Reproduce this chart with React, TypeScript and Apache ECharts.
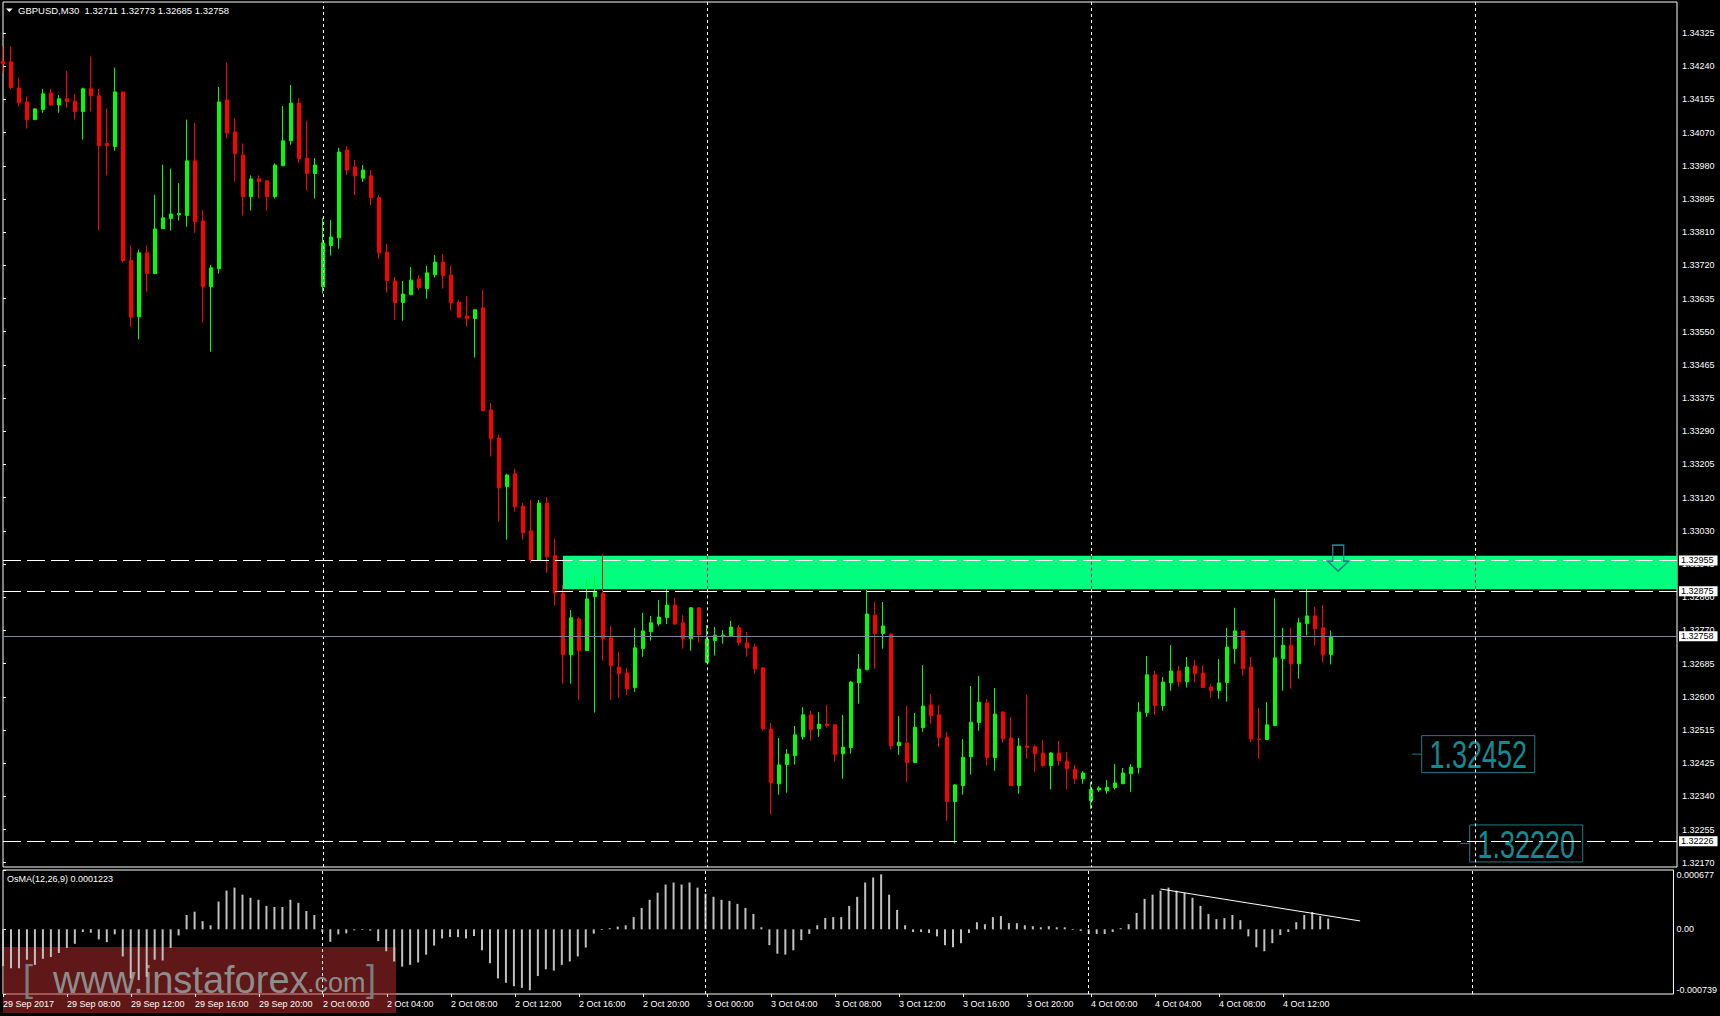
import React, { useEffect, useRef } from "react";
import * as echarts from "echarts";

const symbolTitle = "GBPUSD,M30";
const lastOHLC = ["1.32711", "1.32773", "1.32685", "1.32758"];
const indicatorTitle = "OsMA(12,26,9) 0.0001223";

const timeLabels = [
  "29 Sep 2017", "29 Sep 08:00", "29 Sep 12:00", "29 Sep 16:00", "29 Sep 20:00",
  "2 Oct 00:00", "2 Oct 04:00", "2 Oct 08:00", "2 Oct 12:00", "2 Oct 16:00", "2 Oct 20:00",
  "3 Oct 00:00", "3 Oct 04:00", "3 Oct 08:00", "3 Oct 12:00", "3 Oct 16:00", "3 Oct 20:00",
  "4 Oct 00:00", "4 Oct 04:00", "4 Oct 08:00", "4 Oct 12:00",
];

const priceTicks = [
  "1.32170", "1.32255", "1.32340", "1.32425", "1.32515", "1.32600", "1.32685", "1.32770",
  "1.32860", "1.32945", "1.33030", "1.33120", "1.33205", "1.33290", "1.33375", "1.33465",
  "1.33550", "1.33635", "1.33720", "1.33810", "1.33895", "1.33980", "1.34070", "1.34155",
  "1.34240", "1.34325",
];

const opens = [
  1.34251, 1.34250, 1.34182, 1.34146, 1.34100, 1.34126, 1.34169, 1.34138, 1.34154, 1.34148,
  1.34121, 1.34180, 1.34162, 1.34038, 1.34030, 1.34172, 1.33734, 1.33588, 1.33754, 1.33700,
  1.33817, 1.33843, 1.33853, 1.33851, 1.33993, 1.33837, 1.33666, 1.33713, 1.34151, 1.34068,
  1.34008, 1.33900, 1.33946, 1.33941, 1.33900, 1.33980, 1.34045, 1.34143, 1.34000, 1.33960,
  1.33666, 1.33773, 1.33793, 1.34021, 1.33977, 1.33948, 1.33954, 1.33897, 1.33756, 1.33681,
  1.33625, 1.33645, 1.33686, 1.33661, 1.33697, 1.33730, 1.33696, 1.33626, 1.33590, 1.33583,
  1.33611, 1.33346, 1.33273, 1.33147, 1.33180, 1.33096, 1.33032, 1.32956, 1.33104, 1.32967,
  1.32870, 1.32710, 1.32803, 1.32721, 1.32861, 1.32870, 1.32754, 1.32678, 1.32663, 1.32625,
  1.32726, 1.32770, 1.32790, 1.32807, 1.32839, 1.32793, 1.32752, 1.32832, 1.32690, 1.32747,
  1.32757, 1.32760, 1.32780, 1.32741, 1.32730, 1.32676, 1.32517, 1.32375, 1.32425, 1.32448,
  1.32497, 1.32554, 1.32518, 1.32530, 1.32528, 1.32453, 1.32469, 1.32637, 1.32671, 1.32813,
  1.32765, 1.32764, 1.32474, 1.32481, 1.32430, 1.32521, 1.32580, 1.32554, 1.32496, 1.32329,
  1.32370, 1.32445, 1.32534, 1.32585, 1.32443, 1.32561, 1.32494, 1.32370, 1.32473, 1.32471,
  1.32455, 1.32422, 1.32455, 1.32434, 1.32413, 1.32388, 1.32331, 1.32359, 1.32357, 1.32365,
  1.32375, 1.32401, 1.32417, 1.32560, 1.32658, 1.32578, 1.32637, 1.32668, 1.32640, 1.32681,
  1.32663, 1.32626, 1.32617, 1.32638, 1.32726, 1.32772, 1.32678, 1.32491, 1.32490, 1.32526,
  1.32700, 1.32735, 1.32687, 1.32791, 1.32811, 1.32780, 1.32711,
];

const closes = [
  1.34246, 1.34183, 1.34144, 1.34100, 1.34128, 1.34167, 1.34138, 1.34154, 1.34147, 1.34121,
  1.34180, 1.34162, 1.34032, 1.34032, 1.34172, 1.33734, 1.33587, 1.33754, 1.33700, 1.33816,
  1.33845, 1.33855, 1.33856, 1.33993, 1.33835, 1.33666, 1.33715, 1.34146, 1.34066, 1.34012,
  1.33900, 1.33946, 1.33939, 1.33900, 1.33982, 1.34045, 1.34143, 1.33999, 1.33960, 1.33982,
  1.33780, 1.33795, 1.34016, 1.33969, 1.33954, 1.33969, 1.33897, 1.33754, 1.33682, 1.33625,
  1.33647, 1.33683, 1.33664, 1.33702, 1.33730, 1.33695, 1.33625, 1.33587, 1.33583, 1.33606,
  1.33344, 1.33271, 1.33144, 1.33177, 1.33095, 1.33027, 1.32956, 1.33104, 1.32965, 1.32871,
  1.32710, 1.32806, 1.32721, 1.32855, 1.32873, 1.32752, 1.32682, 1.32661, 1.32622, 1.32728,
  1.32772, 1.32793, 1.32808, 1.32839, 1.32790, 1.32752, 1.32832, 1.32762, 1.32751, 1.32761,
  1.32761, 1.32782, 1.32742, 1.32728, 1.32674, 1.32518, 1.32378, 1.32424, 1.32452, 1.32502,
  1.32554, 1.32516, 1.32530, 1.32526, 1.32451, 1.32470, 1.32639, 1.32673, 1.32816, 1.32765,
  1.32785, 1.32474, 1.32483, 1.32430, 1.32522, 1.32577, 1.32552, 1.32495, 1.32329, 1.32372,
  1.32444, 1.32535, 1.32587, 1.32443, 1.32556, 1.32492, 1.32370, 1.32473, 1.32469, 1.32453,
  1.32422, 1.32455, 1.32435, 1.32414, 1.32388, 1.32403, 1.32361, 1.32364, 1.32366, 1.32377,
  1.32403, 1.32418, 1.32561, 1.32658, 1.32578, 1.32639, 1.32668, 1.32640, 1.32678, 1.32661,
  1.32625, 1.32617, 1.32637, 1.32730, 1.32772, 1.32674, 1.32492, 1.32490, 1.32528, 1.32702,
  1.32735, 1.32687, 1.32793, 1.32811, 1.32778, 1.32710, 1.32758,
];

const lows = [
  1.34222, 1.34179, 1.34134, 1.34077, 1.34100, 1.34118, 1.34135, 1.34118, 1.34131, 1.34100,
  1.34048, 1.34121, 1.33812, 1.33955, 1.34019, 1.33729, 1.33561, 1.33529, 1.33653, 1.33700,
  1.33817, 1.33812, 1.33838, 1.33822, 1.33806, 1.33573, 1.33497, 1.33700, 1.34051, 1.33939,
  1.33851, 1.33864, 1.33895, 1.33864, 1.33895, 1.33980, 1.34035, 1.33988, 1.33916, 1.33895,
  1.33648, 1.33747, 1.33765, 1.33956, 1.33904, 1.33938, 1.33878, 1.33739, 1.33651, 1.33580,
  1.33578, 1.33645, 1.33658, 1.33635, 1.33690, 1.33661, 1.33604, 1.33586, 1.33562, 1.33482,
  1.33344, 1.33225, 1.33056, 1.33009, 1.33082, 1.33009, 1.32949, 1.32956, 1.32923, 1.32838,
  1.32635, 1.32635, 1.32593, 1.32721, 1.32560, 1.32695, 1.32593, 1.32599, 1.32606, 1.32614,
  1.32705, 1.32747, 1.32785, 1.32790, 1.32787, 1.32726, 1.32721, 1.32742, 1.32690, 1.32708,
  1.32739, 1.32760, 1.32734, 1.32705, 1.32661, 1.32513, 1.32295, 1.32347, 1.32352, 1.32425,
  1.32490, 1.32487, 1.32497, 1.32521, 1.32432, 1.32388, 1.32453, 1.32583, 1.32671, 1.32674,
  1.32726, 1.32464, 1.32450, 1.32380, 1.32430, 1.32510, 1.32531, 1.32471, 1.32279, 1.32220,
  1.32347, 1.32399, 1.32513, 1.32422, 1.32409, 1.32482, 1.32370, 1.32349, 1.32440, 1.32406,
  1.32419, 1.32360, 1.32422, 1.32360, 1.32375, 1.32375, 1.32310, 1.32354, 1.32349, 1.32360,
  1.32375, 1.32354, 1.32401, 1.32549, 1.32554, 1.32565, 1.32617, 1.32627, 1.32625, 1.32638,
  1.32625, 1.32599, 1.32596, 1.32588, 1.32687, 1.32656, 1.32484, 1.32440, 1.32490, 1.32526,
  1.32617, 1.32622, 1.32648, 1.32760, 1.32734, 1.32690, 1.32685,
];

const highs = [
  1.34290, 1.34290, 1.34209, 1.34160, 1.34128, 1.34180, 1.34180, 1.34164, 1.34226, 1.34167,
  1.34183, 1.34264, 1.34180, 1.34128, 1.34235, 1.34172, 1.33773, 1.33762, 1.33773, 1.33905,
  1.33983, 1.33973, 1.33935, 1.34100, 1.34092, 1.33865, 1.33723, 1.34185, 1.34248, 1.34104,
  1.34038, 1.33955, 1.33955, 1.33941, 1.33986, 1.34135, 1.34190, 1.34156, 1.34097, 1.34000,
  1.33845, 1.33839, 1.34027, 1.34031, 1.33995, 1.33982, 1.33969, 1.33904, 1.33777, 1.33691,
  1.33681, 1.33717, 1.33696, 1.33720, 1.33748, 1.33751, 1.33720, 1.33632, 1.33642, 1.33608,
  1.33658, 1.33364, 1.33281, 1.33180, 1.33193, 1.33104, 1.33112, 1.33112, 1.33120, 1.33011,
  1.32891, 1.32826, 1.32808, 1.32907, 1.32915, 1.32972, 1.32785, 1.32717, 1.32676, 1.32780,
  1.32819, 1.32811, 1.32852, 1.32881, 1.32858, 1.32813, 1.32834, 1.32832, 1.32787, 1.32782,
  1.32774, 1.32798, 1.32787, 1.32769, 1.32738, 1.32678, 1.32533, 1.32494, 1.32465, 1.32525,
  1.32574, 1.32564, 1.32561, 1.32580, 1.32528, 1.32554, 1.32642, 1.32712, 1.32878, 1.32847,
  1.32847, 1.32764, 1.32551, 1.32577, 1.32559, 1.32683, 1.32608, 1.32580, 1.32509, 1.32374,
  1.32491, 1.32629, 1.32655, 1.32595, 1.32624, 1.32564, 1.32548, 1.32494, 1.32606, 1.32476,
  1.32489, 1.32457, 1.32486, 1.32457, 1.32424, 1.32408, 1.32380, 1.32369, 1.32385, 1.32426,
  1.32416, 1.32426, 1.32587, 1.32707, 1.32668, 1.32652, 1.32735, 1.32681, 1.32704, 1.32696,
  1.32683, 1.32634, 1.32699, 1.32780, 1.32832, 1.32772, 1.32704, 1.32572, 1.32587, 1.32857,
  1.32780, 1.32780, 1.32806, 1.32881, 1.32834, 1.32839, 1.32773,
];

const osmaValues = [
  -0.000418, -0.000445, -0.000445, -0.000348, -0.000406, -0.000337, -0.000317, -0.000271, -0.000213, -0.000166,
  -0.000031, -0.000039, -0.000116, -0.000147, -0.000058, -0.00031, -0.000561, -0.00058, -0.000542, -0.000348,
  -0.000356, -0.000213, -0.00007, 0.000163, 0.000201, 0.000093, 0.000046, 0.000317, 0.000441, 0.000476,
  0.000395, 0.00036, 0.000337, 0.000267, 0.000255, 0.000255, 0.000337, 0.000302, 0.000209, 0.000163,
  -0.000031, -0.000143, -0.000058, -0.000046, -0.000012, -0.000008, -0.000015, -0.000135, -0.000251, -0.000368,
  -0.000426, -0.000406, -0.000379, -0.00029, -0.000186, -0.000104, -0.000089, -0.000089, -0.000104, -0.000077,
  -0.00024, -0.000387, -0.000561, -0.000611, -0.00065, -0.000669, -0.000696, -0.000534, -0.000457, -0.000472,
  -0.000406, -0.000368, -0.00031, -0.000209, -0.00005, -0.000008, 0.000012, 0.000031, 0.000046, 0.000139,
  0.000244, 0.000337, 0.000418, 0.000511, 0.000534, 0.000511, 0.000534, 0.000476, 0.000406, 0.000371,
  0.000337, 0.000325, 0.00029, 0.000244, 0.000174, 0.000023, -0.000182, -0.000279, -0.00029, -0.00024,
  -0.000124, -0.000054, 0.000046, 0.000128, 0.000139, 0.000139, 0.000267, 0.000371, 0.000534, 0.000592,
  0.000627, 0.000395, 0.000221, 0.000046, -0.000031, -0.000031, -0.000043, -0.000081, -0.000182, -0.000205,
  -0.000159, -0.000043, 0.000081, 0.000058, 0.000139, 0.000151, 0.00007, 0.00007, 0.000046, 0.000035,
  0.000023, 0.000035, 0.000023, 0.000023, -0.000008, -0.000019, -0.000054, -0.000054, -0.000054, -0.000031,
  0.000012, 0.000058, 0.000186, 0.000348, 0.000395, 0.000441, 0.000476, 0.000441, 0.000418, 0.00036,
  0.000267, 0.000174, 0.000116, 0.000128, 0.000163, 0.000104, -0.000081, -0.000205, -0.000251, -0.000159,
  -0.000066, -0.000031, 0.000081, 0.000163, 0.000197, 0.000151, 0.000122,
];

const daySeparators = [40, 88, 136, 184];
const resistanceZone = { start: 70, top: 1.32967, bottom: 1.3288 };
const dashedLevels = [1.32955, 1.32875, 1.32226];
const bidLevel = 1.32758;
const osmaTrend = [[145, 0.00046], [170, 0.000095]];
const arrowMark = { x: 166.9, price: 1.32961 };
const textNotes = [
  { text: "1.32452", x: 184.4, price: 1.32452 },
  { text: "1.32220", x: 190.4, price: 1.3222 },
];

const FONT = "Liberation Sans, Arial, sans-serif";
const PRICE_MIN = 1.321588;
const PRICE_MAX = 1.344055;
const TICK_MIN = 1.3217;
const TICK_MAX = 1.34325;
const TICK_STEP = (TICK_MAX - TICK_MIN) / 25;
const OSMA_MIN = -0.000739;
const OSMA_MAX = 0.000677;
const X_MAX = 1674 / 8;

export default function App() {
  const ref = useRef<HTMLDivElement>(null);

  useEffect(() => {
    document.body.style.margin = "0";
    document.body.style.background = "#000";
    const chart = echarts.init(ref.current!, null, { renderer: "svg" });

    const candleData = opens.map((o, i) => [i, o, closes[i], lows[i], highs[i]]);
    const osmaData = osmaValues.map((v, i) => [i, v]);

    const dotStyle = { color: "#ffffff", type: [3, 3], width: 1 };
    const xorStyle = { color: "#ff0080", type: [3, 3], width: 1 };

    // main-panel separators: white dots, shown magenta where they cross the green zone
    const mainSeparators: any[] = [];
    daySeparators.forEach((x) => {
      if (x > resistanceZone.start) {
        mainSeparators.push([{ coord: [x, PRICE_MAX], lineStyle: dotStyle }, { coord: [x, resistanceZone.top] }]);
        mainSeparators.push([{ coord: [x, resistanceZone.top], lineStyle: xorStyle }, { coord: [x, resistanceZone.bottom] }]);
        mainSeparators.push([{ coord: [x, resistanceZone.bottom], lineStyle: dotStyle }, { coord: [x, PRICE_MIN] }]);
      } else {
        mainSeparators.push({ xAxis: x, lineStyle: dotStyle, label: { show: false } });
      }
    });
    const indSeparators = daySeparators.map((x) => ({ xAxis: x, lineStyle: dotStyle, label: { show: false } }));

    const boxLabel = (t: string) => ({
      show: true,
      position: "end",
      distance: 2,
      formatter: t,
      color: "#000",
      backgroundColor: "#fff",
      padding: [1, 4, 0, 2],
      fontSize: 9,
      fontFamily: FONT,
    });

    const levelLines: any[] = dashedLevels.map((v) => ({
      yAxis: v,
      lineStyle: { color: "#ffffff", type: [18, 6], width: 1 },
      label: boxLabel(v.toFixed(5)),
    }));
    levelLines.push({
      yAxis: bidLevel,
      lineStyle: { color: "#778899", type: "solid", width: 1 },
      label: boxLabel(bidLevel.toFixed(5)),
    });

    const option: any = {
      animation: false,
      backgroundColor: "#000",
      textStyle: { fontFamily: FONT },
      grid: [
        { left: 3, top: 2, width: 1674, height: 865, show: true, borderColor: "#fff", borderWidth: 1, backgroundColor: "transparent" },
        { left: 3, top: 33, width: 1674, height: 829.7, show: false },
        { left: 3, top: 870, width: 1674, height: 124, show: true, borderColor: "#fff", borderWidth: 1, backgroundColor: "transparent" },
        { left: 3, top: 870, width: 1280, height: 124, show: false },
      ],
      xAxis: [
        { gridIndex: 0, type: "value", min: 0, max: X_MAX, show: false },
        { gridIndex: 1, type: "value", min: 0, max: 1, show: false },
        { gridIndex: 2, type: "value", min: 0, max: X_MAX, show: false },
        {
          gridIndex: 3, type: "value", min: 0, max: 160, interval: 8, position: "bottom",
          axisLine: { show: false },
          axisTick: { show: true, length: 3, lineStyle: { color: "#fff" } },
          splitLine: { show: false },
          axisLabel: {
            color: "#fff", fontSize: 9, align: "left", margin: 5, fontFamily: FONT,
            showMinLabel: true, showMaxLabel: true,
            formatter: (v: number) => timeLabels[Math.round(v / 8)] ?? "",
          },
        },
      ],
      yAxis: [
        { gridIndex: 0, type: "value", min: PRICE_MIN, max: PRICE_MAX, show: false },
        {
          gridIndex: 1, type: "value", position: "right", min: TICK_MIN, max: TICK_MAX, interval: TICK_STEP,
          axisLine: { show: false },
          axisTick: { show: true, length: 3, lineStyle: { color: "#fff" } },
          splitLine: { show: false },
          axisLabel: {
            color: "#fff", fontSize: 9, margin: 5, fontFamily: FONT,
            formatter: (v: number) => priceTicks[Math.round((v - TICK_MIN) / TICK_STEP)] ?? "",
          },
        },
        {
          gridIndex: 2, type: "value", position: "right", min: OSMA_MIN, max: OSMA_MAX, interval: -OSMA_MIN,
          axisLine: { show: false },
          axisTick: { show: true, length: 3, lineStyle: { color: "#fff" } },
          splitLine: { show: false },
          axisLabel: {
            color: "#fff", fontSize: 9, margin: 3, fontFamily: FONT,
            verticalAlignMaxLabel: "top",
            verticalAlignMinLabel: "bottom",
            formatter: (v: number) => (Math.abs(v) < 1e-9 ? "0.00" : v.toFixed(6)),
          },
        },
        { gridIndex: 3, type: "value", min: 0, max: 1, show: false },
      ],
      series: [
        {
          type: "candlestick",
          xAxisIndex: 0,
          yAxisIndex: 0,
          data: candleData,
          encode: { x: 0, y: [1, 2, 3, 4] },
          barWidth: 4,
          clip: true,
          itemStyle: {
            color: "#00ff00",
            color0: "#ff0000",
            borderColor: "#00ff00",
            borderColor0: "#ff0000",
            borderWidth: 1,
          },
          markArea: {
            silent: true,
            itemStyle: { color: "#00ff7f", opacity: 1 },
            data: [[
              { coord: [resistanceZone.start, resistanceZone.top] },
              { coord: [X_MAX, resistanceZone.bottom] },
            ]],
          },
          markLine: {
            silent: true,
            precision: 6,
            symbol: ["none", "none"],
            label: { show: false },
            data: [...mainSeparators, ...levelLines],
          },
          markPoint: {
            silent: true,
            data: [
              {
                coord: [arrowMark.x, arrowMark.price],
                symbol: "path://M5,0L16,0L16,16L21,16L10.5,26L0,16L5,16Z",
                symbolSize: [21, 26],
                itemStyle: { color: "rgba(0,0,0,0)", borderColor: "#1f7f88", borderWidth: 1.5 },
                label: { show: false },
              },
            ],
          },
        },
        {
          type: "bar",
          xAxisIndex: 2,
          yAxisIndex: 2,
          data: osmaData,
          barWidth: 2,
          itemStyle: { color: "#c0c0c0" },
          markLine: {
            silent: true,
            precision: 8,
            symbol: ["none", "none"],
            label: { show: false },
            data: [
              ...indSeparators,
              [
                { coord: osmaTrend[0], lineStyle: { color: "#fff", type: "solid", width: 1 } },
                { coord: osmaTrend[1] },
              ],
            ],
          },
        },
      ],
    };

    chart.setOption(option);

    const noteGraphics = textNotes.map((n, k) => {
      const p = chart.convertToPixel({ gridIndex: 0 }, [n.x, n.price]) as number[];
      return {
        type: "group",
        id: "note" + k,
        x: p[0],
        y: p[1],
        z: 50,
        children: [
          { type: "rect", shape: { x: -56.5, y: -18.5, width: 113, height: 37 }, style: { fill: "none", stroke: "#1b7e85", lineWidth: 1 } },
          { type: "line", shape: { x1: -66, y1: 0, x2: -57, y2: 0 }, style: { stroke: "#1b7e85", lineWidth: 1 } },
          {
            type: "text", x: 0, y: 1, scaleX: 0.71,
            style: { text: n.text, fill: "#168a90", fontSize: 38, fontFamily: FONT, align: "center", verticalAlign: "middle" },
          },
        ],
      };
    });

    const graphics: any[] = [
      { type: "polygon", id: "tri", z: 60, shape: { points: [[6, 8.5], [12.7, 8.5], [9.35, 12]] }, style: { fill: "#fff" } },
      {
        type: "text", id: "title", z: 60, x: 18, y: 10.5,
        style: {
          text: symbolTitle + "\u00a0\u00a0" + lastOHLC.join(" "),
          fill: "#fff", fontSize: 9.5, fontFamily: FONT, verticalAlign: "middle",
        },
      },
      {
        type: "text", id: "ind", z: 60, x: 7, y: 878.5,
        style: { text: indicatorTitle, fill: "#fff", fontSize: 9, fontFamily: FONT, verticalAlign: "middle" },
      },
      {
        type: "group", id: "wm", z: 100,
        children: [
          { type: "rect", shape: { x: 3, y: 947, width: 393, height: 66 }, style: { fill: "rgba(190,45,45,0.5)" } },
          { type: "text", x: 23, y: 978, style: { text: "[", fill: "#7c7c7c", fontSize: 36, fontFamily: FONT, verticalAlign: "middle" } },
          { type: "text", x: 53, y: 980, style: { text: "www.instaforex", fill: "#8d8d8d", fontSize: 38, fontFamily: FONT, verticalAlign: "middle" } },
          { type: "text", x: 307, y: 983, style: { text: ".com", fill: "#8d8d8d", fontSize: 27, fontFamily: FONT, verticalAlign: "middle" } },
          { type: "text", x: 366, y: 978, style: { text: "]", fill: "#7c7c7c", fontSize: 36, fontFamily: FONT, verticalAlign: "middle" } },
        ],
      },
      ...noteGraphics,
    ];

    chart.setOption({ graphic: graphics });

    return () => chart.dispose();
  }, []);

  return <div ref={ref} style={{ width: 1720, height: 1016, background: "#000" }} />;
}
